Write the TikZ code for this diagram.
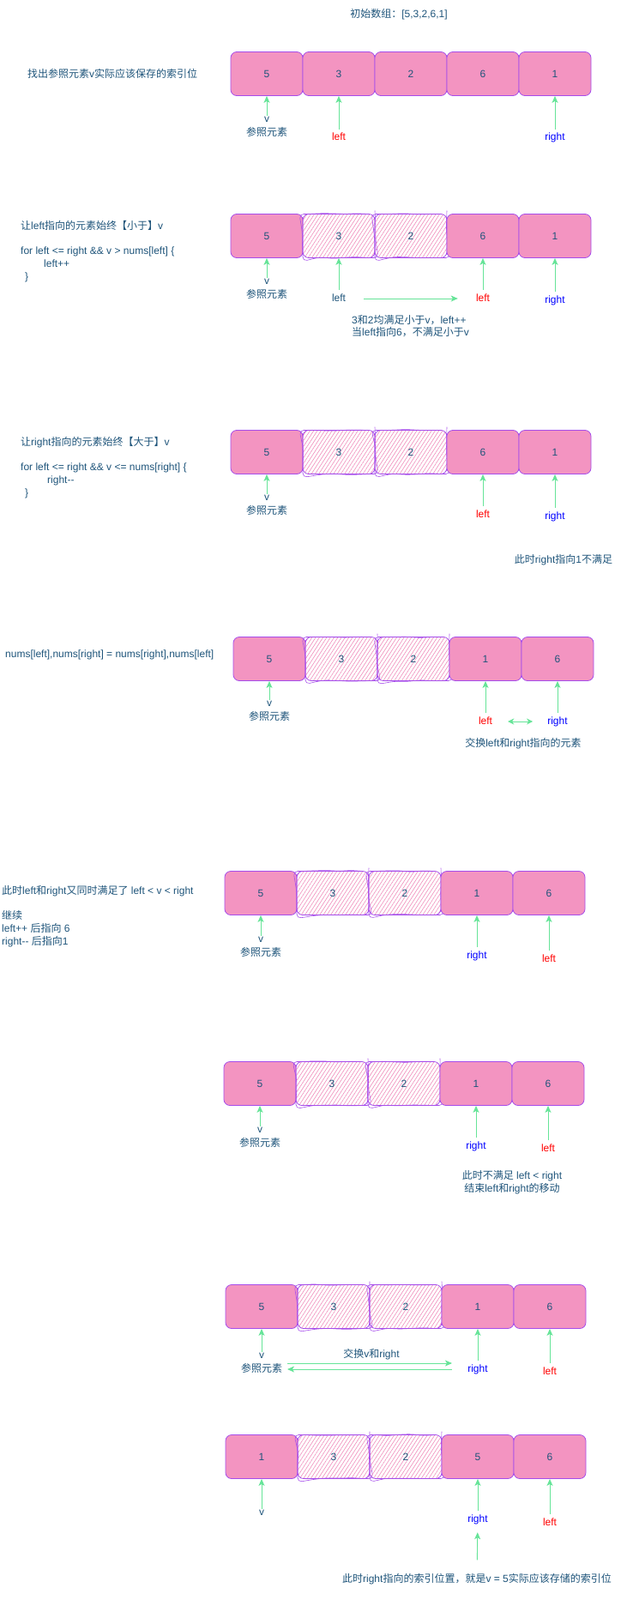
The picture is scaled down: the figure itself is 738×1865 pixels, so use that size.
\documentclass[tikz,border=0pt]{standalone}
\usepackage{fontspec}
\setmainfont{Liberation Sans}
\newfontfamily\cjk{Noto Sans CJK SC}
% switch to the CJK font for Chinese characters
\XeTeXinterchartokenstate=1
\newXeTeXintercharclass\cjkclass
\count255="3000
\loop\XeTeXcharclass\count255=\cjkclass\ifnum\count255<"9FFF\advance\count255 by 1\repeat
\count255="FF00
\loop\XeTeXcharclass\count255=\cjkclass\ifnum\count255<"FFEF\advance\count255 by 1\repeat
\XeTeXinterchartoks 0 \cjkclass={\begingroup\cjk}
\XeTeXinterchartoks 4095 \cjkclass={\begingroup\cjk}
\XeTeXinterchartoks \cjkclass 0={\endgroup}
\XeTeXinterchartoks \cjkclass 4095={\endgroup}
\usetikzlibrary{arrows.meta,patterns.meta,decorations.pathmorphing}

\definecolor{ink}{RGB}{30,84,122}
\definecolor{rose}{RGB}{243,148,193}
\definecolor{edge}{RGB}{166,77,235}
\definecolor{hatch}{RGB}{238,130,180}
\definecolor{mint}{RGB}{102,228,152}

\tikzset{
  box/.style={draw=edge,rounded corners=7pt,minimum width=84pt,minimum height=51pt,line width=0.8pt,text=ink},
  cell/.style={box,fill=rose},
  donecell/.style={box,pattern={Lines[angle=57,distance=3.6pt,line width=0.55pt]},pattern color=hatch,
    postaction={draw=edge,line width=0.6pt,decorate,decoration={random steps,segment length=14pt,amplitude=1pt},rounded corners=5pt}},
  ptr/.style={draw=mint,line width=0.9pt,-{Stealth[length=8pt,width=7pt,inset=2pt]}},
  lbl/.style={text=ink,align=center,inner sep=1pt,font=\fontsize{12}{16}\selectfont},
  lft/.style={text=red,text height=9pt,text depth=3pt,inner ysep=4pt,inner xsep=1pt},
  rgt/.style={text=blue,text height=9pt,text depth=3pt,inner ysep=4pt,inner xsep=1pt},
  note/.style={text=ink,inner sep=0pt,align=left},
}

\begin{document}
\begin{tikzpicture}[x=1pt,y=-1pt,font=\fontsize{12}{14.7}\selectfont]
        \useasboundingbox (0,0) rectangle (738,1865);

        \node[note,align=center] (title) at (465,17) {初始数组：[5,3,2,6,1]};

        % initial array
        \node[note,anchor=west] (t1) at (32,86) {找出参照元素v实际应该保存的索引位};
        \begin{scope}[shift={(269,86)}]
        \node[cell] (a1) at (42,0) {5};
        \node[cell] (a2) at (126,0) {3};
        \node[cell] (a3) at (210,0) {2};
        \node[cell] (a4) at (294,0) {6};
        \node[cell] (a5) at (378,0) {1};
        \node[lbl] (av) at (42,62) {v\\参照元素};
        \node[lft] (al) at (126,75) {left};
        \node[rgt] (ar) at (378,75) {right};
        \draw[ptr] (av) -- (a1);
        \draw[ptr] (al) -- (a2);
        \draw[ptr] (ar) -- (a5);
        \end{scope}

        % left moves
        \node[note,anchor=north west] (t2) at (24,257) {让left指向的元素始终【小于】v\\[14.7pt]
          for left <= right \&\& v > nums[left] \{\\
          \hspace*{27pt}left++\\
          \hspace*{5pt}\}};
        \begin{scope}[shift={(269,275)}]
        \node[cell] (b1) at (42,0) {5};
        \node[donecell] (b2) at (126,0) {3};
        \node[donecell] (b3) at (210,0) {2};
        \node[cell] (b4) at (294,0) {6};
        \node[cell] (b5) at (378,0) {1};
        \node[lbl] (bv) at (42,61.5) {v\\参照元素};
        \node[lft,text=ink] (bl) at (126,73) {left};
        \node[lft] (bl4) at (294,73) {left};
        \node[rgt] (br) at (378,75) {right};
        \draw[ptr] (bv) -- (b1);
        \draw[ptr] (bl) -- (b2);
        \draw[ptr] (bl4) -- (b4);
        \draw[ptr] (br) -- (b5);
        \draw[ptr,shorten <=20pt,shorten >=20pt] (bl) -- (bl4);
        \node[note,anchor=north west] (bn) at (141,92) {3和2均满足小于v，left++\\当left指向6，不满足小于v};
        \end{scope}

        % right moves
        \node[note,anchor=north west] (t3) at (24,509) {让right指向的元素始终【大于】v\\[14.7pt]
          for left <= right \&\& v <= nums[right] \{\\
          \hspace*{31pt}right-{}-\\
          \hspace*{5pt}\}};
        \begin{scope}[shift={(269,527)}]
        \node[cell] (c1) at (42,0) {5};
        \node[donecell] (c2) at (126,0) {3};
        \node[donecell] (c3) at (210,0) {2};
        \node[cell] (c4) at (294,0) {6};
        \node[cell] (c5) at (378,0) {1};
        \node[lbl] (cv) at (42,62) {v\\参照元素};
        \node[lft] (cl) at (294,73) {left};
        \node[rgt] (cr) at (378,75) {right};
        \draw[ptr] (cv) -- (c1);
        \draw[ptr] (cl) -- (c4);
        \draw[ptr] (cr) -- (c5);
        \node[note] (cn) at (388,126) {此时right指向1不满足};
        \end{scope}

        % swap left and right
        \node[note,anchor=west] (t4) at (6,763) {nums[left],nums[right] = nums[right],nums[left]};
        \begin{scope}[shift={(272,768)}]
        \node[cell] (d1) at (42,0) {5};
        \node[donecell] (d2) at (126,0) {3};
        \node[donecell] (d3) at (210,0) {2};
        \node[cell] (d4) at (294,0) {1};
        \node[cell] (d5) at (378,0) {6};
        \node[lbl] (dv) at (42,61) {v\\参照元素};
        \node[lft] (dl) at (294,73) {left};
        \node[rgt] (dr) at (378,73) {right};
        \draw[ptr] (dv) -- (d1);
        \draw[ptr] (dl) -- (d4);
        \draw[ptr] (dr) -- (d5);
        \draw[draw=mint,line width=0.9pt,{Stealth[length=7pt,width=7pt,inset=2pt]}-{Stealth[length=7pt,width=7pt,inset=2pt]},shorten <=17pt,shorten >=16pt] (dl) -- (dr);
        \node[note] (dn) at (338,99) {交换left和right指向的元素};
        \end{scope}

        % left and right go on
        \node[note,anchor=north west] (t5) at (2,1032) {此时left和right又同时满足了 left < v < right\\[14.7pt]
          继续\\
          left++ 后指向 6\\
          right-{}- 后指向1};
        \begin{scope}[shift={(262,1041)}]
        \node[cell] (e1) at (42,0) {5};
        \node[donecell] (e2) at (126,0) {3};
        \node[donecell] (e3) at (210,0) {2};
        \node[cell] (e4) at (294,0) {1};
        \node[cell] (e5) at (378,0) {6};
        \node[lbl] (ev) at (42,63) {v\\参照元素};
        \node[rgt] (er) at (294,73) {right};
        \node[lft] (el) at (378,77) {left};
        \draw[ptr] (ev) -- (e1);
        \draw[ptr] (er) -- (e4);
        \draw[ptr] (el) -- (e5);
        \end{scope}

        % stop
        \begin{scope}[shift={(261,1263)}]
        \node[cell] (f1) at (42,0) {5};
        \node[donecell] (f2) at (126,0) {3};
        \node[donecell] (f3) at (210,0) {2};
        \node[cell] (f4) at (294,0) {1};
        \node[cell] (f5) at (378,0) {6};
        \node[lbl] (fv) at (42,62.5) {v\\参照元素};
        \node[rgt] (fr) at (294,73) {right};
        \node[lft] (fl) at (378,76) {left};
        \draw[ptr] (fv) -- (f1);
        \draw[ptr] (fr) -- (f4);
        \draw[ptr] (fl) -- (f5);
        \node[note,align=center] (fn) at (336,115.5) {此时不满足 left < right\\结束left和right的移动};
        \end{scope}

        % swap v and right
        \begin{scope}[shift={(263,1523)}]
        \node[cell] (g1) at (42,0) {5};
        \node[donecell] (g2) at (126,0) {3};
        \node[donecell] (g3) at (210,0) {2};
        \node[cell] (g4) at (294,0) {1};
        \node[cell] (g5) at (378,0) {6};
        \node[lbl] (gv) at (42,66) {v\\参照元素};
        \node[rgt] (gr) at (294,73) {right};
        \node[lft] (gl) at (378,76) {left};
        \draw[ptr] (gv) -- (g1);
        \draw[ptr] (gr) -- (g4);
        \draw[ptr] (gl) -- (g5);
        \node[note] (gn) at (170,56) {交换v和right};
        \coordinate (gs1) at (72,66);
        \coordinate (gs2) at (264,66);
        \coordinate (gs3) at (264,73);
        \coordinate (gs4) at (72,73);
        \draw[ptr] (gs1) -- (gs2);
        \draw[ptr] (gs3) -- (gs4);
        \end{scope}

        % result
        \begin{scope}[shift={(263,1698)}]
        \node[cell] (h1) at (42,0) {1};
        \node[donecell] (h2) at (126,0) {3};
        \node[donecell] (h3) at (210,0) {2};
        \node[cell] (h4) at (294,0) {5};
        \node[cell] (h5) at (378,0) {6};
        \node[lbl] (hv) at (42,65) {v};
        \node[rgt] (hr) at (294,73) {right};
        \node[lft] (hl) at (378,77) {left};
        \draw[ptr] (hv) -- (h1);
        \draw[ptr] (hr) -- (h4);
        \draw[ptr] (hl) -- (h5);
        \node[note] (hn) at (293,143) {此时right指向的索引位置，就是v = 5实际应该存储的索引位};
        \draw[ptr,shorten <=16pt,shorten >=5pt] (hn) -- (hr);
        \end{scope}
    \end{tikzpicture}
\end{document}
